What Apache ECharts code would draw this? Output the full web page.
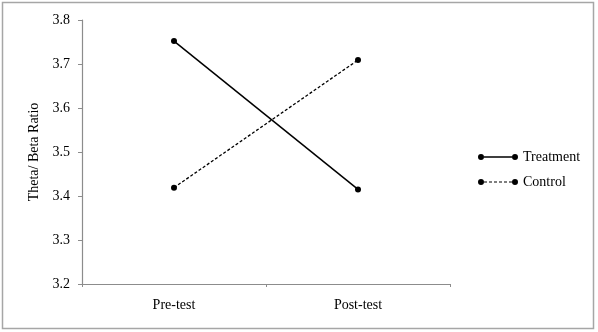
<!DOCTYPE html>
<html>
<head>
<meta charset="utf-8">
<script src="https://cdn.jsdelivr.net/npm/echarts@6/dist/echarts.min.js"></script>
<style>
  html, body { margin: 0; padding: 0; background: #fff; }
  #chart { width: 598px; height: 332px; }
</style>
</head>
<body>
<div id="chart"></div>
<script>
var categories = ['Pre-test', 'Post-test'];
var treatment = [3.752, 3.415];
var control = [3.419, 3.709];
var seriesNames = ['Treatment', 'Control'];

var font = 'Liberation Serif, Times New Roman, serif';
var axisGray = '#8c8c8c';

// legend icons: dot - line - dot, one solid, one dashed
var dots = 'M0,3a3,3 0 1,0 6,0a3,3 0 1,0 -6,0ZM34,3a3,3 0 1,0 6,0a3,3 0 1,0 -6,0Z';
var solidIcon = 'path://' + dots + 'M6,2.3h28v1.4h-28Z';
var dashIcon = 'path://' + dots +
  'M6,2.4h3v1.2h-3ZM11,2.4h3v1.2h-3ZM16,2.4h3v1.2h-3ZM21,2.4h3v1.2h-3ZM26,2.4h3v1.2h-3ZM31,2.4h3v1.2h-3Z';

var chart = echarts.init(document.getElementById('chart'));

var option = {
  animation: false,
  backgroundColor: '#fff',
  textStyle: { fontFamily: font },
  graphic: [{
    type: 'rect',
    shape: { x: 2.5, y: 2.5, width: 591, height: 326 },
    style: { fill: 'none', stroke: '#a6a6a6', lineWidth: 1.5 },
    silent: true
  }],
  grid: { left: 82, right: 148, top: 20, bottom: 48 },
  legend: {
    orient: 'vertical',
    left: 473,
    top: 145,
    itemWidth: 40,
    itemHeight: 6,
    itemGap: 11,
    textStyle: { fontFamily: font, fontSize: 14, color: '#000' },
    data: [
      { name: seriesNames[0], icon: solidIcon },
      { name: seriesNames[1], icon: dashIcon }
    ]
  },
  xAxis: {
    type: 'category',
    data: categories,
    boundaryGap: true,
    axisLine: { lineStyle: { color: axisGray, width: 1.2 } },
    axisTick: { show: true, length: 3, lineStyle: { color: axisGray } },
    axisLabel: { margin: 14, fontFamily: font, fontSize: 14, color: '#000' },
    splitLine: { show: false }
  },
  yAxis: {
    type: 'value',
    min: 3.2,
    max: 3.8,
    interval: 0.1,
    name: 'Theta/ Beta Ratio',
    nameLocation: 'middle',
    nameGap: 41,
    nameTextStyle: { fontFamily: font, fontSize: 14, color: '#000' },
    axisLine: { show: true, lineStyle: { color: axisGray, width: 1.2 } },
    axisTick: { show: true, length: 4, lineStyle: { color: axisGray } },
    axisLabel: {
      margin: 12, fontFamily: font, fontSize: 14, color: '#000',
      formatter: function (v) { return v.toFixed(1); }
    },
    splitLine: { show: false }
  },
  series: [
    {
      name: seriesNames[0],
      type: 'line',
      data: treatment,
      symbol: 'circle',
      symbolSize: 6,
      itemStyle: { color: '#000' },
      lineStyle: { color: '#000', width: 1.5, type: 'solid' }
    },
    {
      name: seriesNames[1],
      type: 'line',
      data: control,
      symbol: 'circle',
      symbolSize: 6,
      itemStyle: { color: '#000' },
      lineStyle: { color: '#000', width: 1.3, type: [3, 2] }
    }
  ]
};

chart.setOption(option);
</script>
</body>
</html>
